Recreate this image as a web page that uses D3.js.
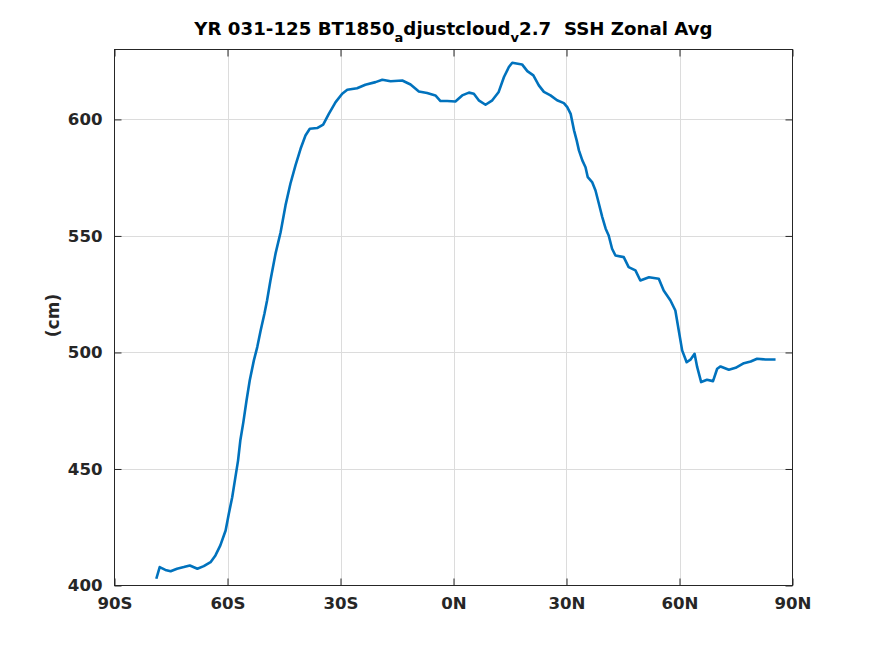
<!DOCTYPE html>
<html>
<head>
<meta charset="utf-8">
<script src="https://cdn.jsdelivr.net/npm/d3@7"></script>
<style>
  body { margin: 0; background: #fff; }
  text { font-family: "DejaVu Sans", sans-serif; font-weight: bold; }
</style>
</head>
<body>
<svg id="chart" width="875" height="656"></svg>
<script>
// latitude (deg) and zonal mean SSH (cm)
const lat = [-78.9, -78.0, -76.5, -75.1, -73.4, -71.6, -70.0, -68.0, -66.3, -64.5,
  -63.2, -61.9, -60.5, -59.65, -58.75, -57.9, -57.2, -56.6, -55.8, -54.95,
  -54.1, -53.0, -52.1, -51.2, -50.2, -49.5, -48.6, -47.25, -45.9, -44.6,
  -43.3, -41.95, -40.6, -39.3, -38.15, -36.2, -34.6, -33.1, -31.3, -29.55,
  -28.2, -25.6, -23.4, -20.7, -18.9, -16.7, -13.6, -11.4, -9.2, -7.0,
  -4.8, -3.45, -1.7, 0.5, 2.3, 4.1, 5.4, 6.7, 8.5, 10.3,
  12.0, 13.4, 14.7, 15.6, 18.2, 19.6, 21.2, 22.65, 24.0, 25.75,
  27.5, 29.3, 30.2, 31.1, 32.0, 32.7, 33.3, 34.2, 35.05, 35.65,
  36.8, 37.7, 38.6, 39.5, 40.4, 41.2, 42.1, 43.0, 45.2, 46.5,
  48.3, 49.6, 51.9, 54.5, 55.8, 57.6, 58.9, 59.8, 60.7, 61.9,
  62.9, 64.0, 64.7, 65.75, 67.3, 68.9, 70.0, 70.9, 73.1, 74.9,
  77.1, 78.9, 80.6, 82.8, 85.5];
const ssh = [402.9, 407.9, 406.7, 406.1, 407.2, 407.9, 408.6, 407.2, 408.3, 410.0,
  412.9, 417.2, 423.6, 430.8, 437.9, 446.5, 453.6, 462.2, 470.0, 479.4,
  488.0, 496.6, 502.3, 509.4, 516.6, 522.3, 530.9, 542.4, 551.6, 563.1,
  572.4, 580.3, 587.4, 593.1, 596.0, 596.3, 597.8, 602.4, 607.4, 611.0,
  612.7, 613.4, 614.9, 616.0, 617.0, 616.4, 616.7, 615.0, 612.0, 611.3,
  610.3, 607.9, 607.9, 607.7, 610.3, 611.5, 611.0, 608.2, 606.3, 608.2,
  611.8, 618.2, 622.5, 624.3, 623.6, 620.7, 618.9, 614.6, 611.8, 610.3,
  608.2, 607.0, 605.3, 602.4, 595.3, 591.0, 586.7, 582.4, 579.5, 575.2,
  573.1, 569.5, 563.8, 558.1, 553.1, 550.2, 544.5, 541.6, 540.9, 536.6,
  535.2, 530.9, 532.3, 531.6, 526.6, 522.3, 518.0, 509.4, 500.9, 495.8,
  496.9, 499.4, 493.7, 487.3, 488.3, 487.7, 493.0, 494.0, 492.6, 493.4,
  495.4, 496.1, 497.3, 497.0, 497.0];

const xTicks = [-90, -60, -30, 0, 30, 60, 90];
const xTickLabels = ["90S", "60S", "30S", "0N", "30N", "60N", "90N"];
const yTicks = [400, 450, 500, 550, 600];

const svg = d3.select("#chart");
const plotL = 114.5, plotR = 792.5, plotT = 49.5, plotB = 585.5;

const xScale = d3.scaleLinear().domain([-90, 90]).range([plotL, plotR]);
const yScale = d3.scaleLinear().domain([400, 630]).range([plotB, plotT]);

// grid
const grid = svg.append("g").attr("stroke", "#dcdcdc").attr("stroke-width", 1);
grid.selectAll(".gx").data(xTicks.slice(1, -1)).enter().append("line")
  .attr("x1", d => Math.round(xScale(d)) + 0.5).attr("x2", d => Math.round(xScale(d)) + 0.5)
  .attr("y1", plotT).attr("y2", plotB);
grid.selectAll(".gy").data(yTicks.slice(1)).enter().append("line")
  .attr("y1", d => Math.round(yScale(d)) + 0.5).attr("y2", d => Math.round(yScale(d)) + 0.5)
  .attr("x1", plotL).attr("x2", plotR);

// data line
const line = d3.line().x((d, i) => xScale(lat[i])).y(d => yScale(d));
svg.append("path").datum(ssh)
  .attr("fill", "none").attr("stroke", "#0072BD").attr("stroke-width", 2.6)
  .attr("stroke-linejoin", "round").attr("d", line);

// box
svg.append("rect").attr("x", plotL).attr("y", plotT)
  .attr("width", plotR - plotL).attr("height", plotB - plotT)
  .attr("fill", "none").attr("stroke", "#262626").attr("stroke-width", 1);

// axes, ticks inside like MATLAB
const xAxis = d3.axisBottom(xScale).tickValues(xTicks).tickSizeInner(-7).tickSizeOuter(0)
  .tickPadding(12).tickFormat((d, i) => xTickLabels[i]);
const gx = svg.append("g").attr("transform", `translate(0,${plotB})`).call(xAxis);
const xAxisTop = d3.axisTop(xScale).tickValues(xTicks).tickSizeInner(-7).tickSizeOuter(0).tickFormat("");
const gxt = svg.append("g").attr("transform", `translate(0,${plotT})`).call(xAxisTop);

const yAxis = d3.axisLeft(yScale).tickValues(yTicks).tickSizeInner(-7).tickSizeOuter(0).tickPadding(12);
const gy = svg.append("g").attr("transform", `translate(${plotL},0)`).call(yAxis);
const yAxisRight = d3.axisRight(yScale).tickValues(yTicks).tickSizeInner(-7).tickSizeOuter(0).tickFormat("");
const gyr = svg.append("g").attr("transform", `translate(${plotR},0)`).call(yAxisRight);

[gx, gxt, gy, gyr].forEach(g => {
  g.select(".domain").remove();
  g.selectAll("line").attr("stroke", "#262626");
  g.selectAll("text").attr("fill", "#262626").style("font-size", "16.6px")
    .style("font-family", "'DejaVu Sans', sans-serif").style("font-weight", "bold");
});
gx.selectAll("text").attr("dy", "0.71em");

// y label
svg.append("text")
  .attr("transform", `translate(59,${(plotT + plotB) / 2 - 2}) rotate(-90)`)
  .attr("text-anchor", "middle").attr("fill", "#262626")
  .style("font-size", "17px").text("(cm)");

// title with MATLAB-style subscripts
const title = svg.append("text").attr("x", (plotL + plotR) / 2).attr("y", 35)
  .attr("text-anchor", "middle").attr("fill", "#000").style("font-size", "18.2px");
title.append("tspan").text("YR 031-125 BT1850");
title.append("tspan").attr("dy", 7).style("font-size", "13px").text("a");
title.append("tspan").attr("dy", -7).text("djustcloud");
title.append("tspan").attr("dy", 7).style("font-size", "13px").text("v");
title.append("tspan").attr("dy", -7).text("2.7\u00a0\u00a0SSH Zonal Avg");
</script>
</body>
</html>
